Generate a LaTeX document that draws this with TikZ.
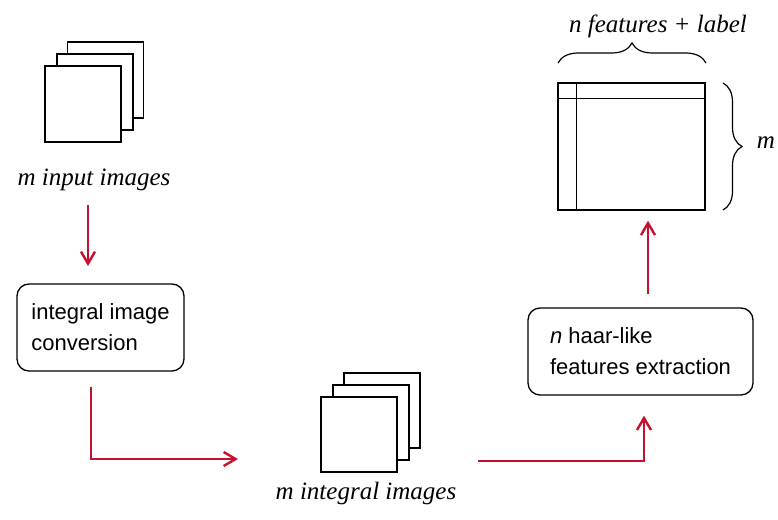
\documentclass[tikz,border=0pt]{standalone}
\usepackage{fontspec}
\newfontfamily\boxfont{Liberation Sans}
\newfontfamily\lblfont{Liberation Serif}
\usetikzlibrary{arrows.meta,decorations.pathreplacing,calc}
\definecolor{arrred}{RGB}{200,16,46}
\tikzset{
  sheet/.style={draw=black, fill=white, line width=1.4pt, minimum width=76pt, minimum height=76pt, inner sep=0pt},
  procbox/.style={draw=black, line width=1.3pt, rounded corners=12pt, minimum height=87pt, align=left, inner sep=0pt, font=\boxfont\fontsize{22}{31}\selectfont},
  lbl/.style={font=\lblfont\itshape\fontsize{25}{30}\selectfont, inner sep=0pt},
  arr/.style={draw=arrred, line width=2.4pt, -{Straight Barb[length=12pt,width=14pt,line width=2.4pt]}},
  bracestyle/.style={draw=black, line width=1.2pt, decorate}
}
\begin{document}
\begin{tikzpicture}[x=1pt,y=-1pt]
\useasboundingbox (0,0) rectangle (778,519);
% input stack
\node[sheet] (in3) at (105.5,80) {};
\node[sheet] (in2) at (95,92) {};
\node[sheet] (in1) at (83,104) {};
\node[lbl] (inlbl) at (94,180) {m input images};
% integral stack
\node[sheet, minimum height=75pt] (ig3) at (382,410.5) {};
\node[sheet, minimum height=75pt] (ig2) at (371,422.5) {};
\node[sheet, minimum height=75pt] (ig1) at (359,434.5) {};
\node[lbl] (iglbl) at (366,493) {m integral images};
% boxes
\node[procbox, minimum width=167pt] (conv) at (100.5,327.5) {integral image\\conversion};
\node[procbox, minimum width=225pt] (haar) at (640.5,351.5) {\textit{n} haar-like\\features extraction};
% matrix
\node[draw=black, line width=1.4pt, minimum width=147pt, minimum height=127pt, inner sep=0pt] (mat) at (631.5,146.5) {};
\draw[line width=1.4pt] (mat.north west) ++(0,16) -- ($(mat.north east)+(0,16)$);
\draw[line width=1.4pt] (mat.north west) ++(19,0) -- ($(mat.south west)+(19,0)$);
% braces
\coordinate (tbl) at (558,63);
\coordinate (tbr) at (706,63);
\draw[bracestyle, decoration={brace, amplitude=20pt}] (tbl) -- (tbr);
\node[lbl] (toplbl) at (658,26) {n features + label};
\coordinate (rbt) at (723,83);
\coordinate (rbb) at (723,210);
\draw[bracestyle, decoration={brace, amplitude=19pt}] (rbt) -- (rbb);
\node[lbl] (mlbl) at (766,143) {m};
% arrows
\draw[arr] (88,205) -- (88,266);
\coordinate (a2end) at (238,459);
\draw[arr] ($(conv.south -| 91,0)+(0,15)$) |- (a2end);
\coordinate (a3start) at (478,461);
\draw[arr, shorten >=20pt] (a3start) -| (haar.south -| 644,0);
\draw[arr, shorten <=13pt, shorten >=10pt] (haar.north -| 648,0) -- (mat.south -| 648,0);
\end{tikzpicture}
\end{document}
